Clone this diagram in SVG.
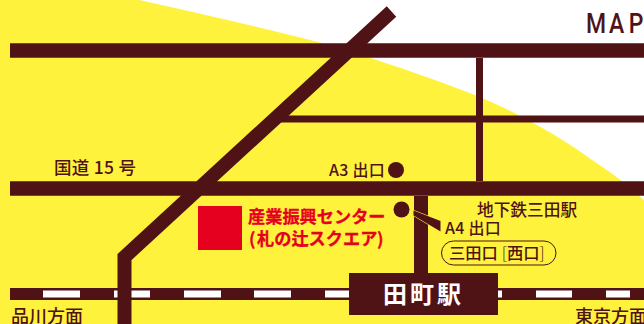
<svg xmlns="http://www.w3.org/2000/svg" width="644" height="324" viewBox="0 0 644 324">
<style>
.r{stroke:#4f1316;fill:none}
.t{font-family:"Noto Sans CJK JP","Noto Sans",sans-serif;fill:#4f1316;font-weight:500}
.red{font-family:"Noto Sans CJK JP",sans-serif;fill:#e60020;stroke:#e60020;stroke-width:.3;font-weight:700;font-size:17.200px}
</style>
<rect width="644" height="324" fill="#fff"/>
<path id="area" d="M0 0H139Q235 21 322 43Q400 66 475 95Q540 122 595 162Q620 178 644 200V324H0Z" fill="#fff23d"/>
<g id="connectors">
<path class="r" stroke-width="14.500" d="M10 50.500H644M10 188.500H644"/>
<path class="r" stroke-width="7" d="M279 119H644M479.500 58V181"/>
<path class="r" stroke-width="14" d="M421 196V275"/>
<path class="r" stroke-width="12" d="M10 294H644"/>
<path stroke="#fff" stroke-width="7" fill="none" d="M43 294H80M114 294H150M184 294H221M254 294H291M325 294H349M498 294H502M536 294H572M606 294H630"/>
<path class="r" stroke-width="14" d="M124.500 324V257L391.500 11.500"/>
<path fill="#4f1316" stroke="#fff23d" stroke-width="1.200" paint-order="stroke" d="M413.500 210.500L440.500 221V231.500L413.500 215.500Z"/>
</g>
<g id="map-title"><text transform="translate(586 33) scale(.82 1)" font-size="28" font-weight="500" fill="#4f1316" style="font-family:Roboto,sans-serif" x="0 28 52" y="0">MAP</text></g>
<g id="route15"><text class="t" x="54" y="173.500" font-size="17.500" letter-spacing=".3">国道 15 号</text></g>
<g id="a3"><circle cx="396" cy="170" r="8" fill="#4f1316"/><text class="t" x="329" y="176" font-size="16" letter-spacing=".3">A3 出口</text></g>
<g id="a4"><circle cx="401.500" cy="209.500" r="8" fill="#4f1316"/><text class="t" x="445" y="234" font-size="16" letter-spacing=".3">A4 出口</text></g>
<g id="subway"><text class="t" x="477" y="216" font-size="16.700">地下鉄三田駅</text></g>
<g id="mita"><rect x="441.500" y="241" width="114.500" height="24" rx="12" fill="none" stroke="#4f1316" stroke-width="1"/><text class="t" x="449" y="259" font-size="16.300">三田口<tspan dx="4" font-weight="300">[</tspan>西口<tspan font-weight="300">]</tspan></text></g>
<g id="center"><rect x="198" y="206" width="44" height="44" fill="#e60020"/><text class="red" x="248" y="223">産業振興センター</text><text class="red" x="249" y="245">(<tspan x="257">札の辻スクエア</tspan><tspan x="377">)</tspan></text></g>
<g id="tamachi"><rect x="349" y="273" width="149" height="42" fill="#4f1316"/><text x="383" y="303" font-size="24" font-weight="700" letter-spacing="3" fill="#fff" style="font-family:'Noto Sans CJK JP',sans-serif">田町駅</text></g>
<g id="shinagawa"><text class="t" x="11" y="323" font-size="18">品川方面</text></g>
<g id="tokyo"><text class="t" x="575" y="323" font-size="18">東京方面</text></g>
</svg>
